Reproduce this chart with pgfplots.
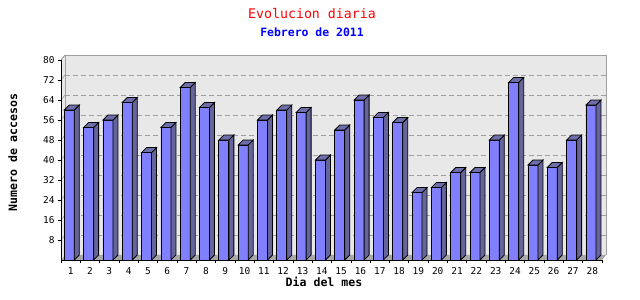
\documentclass[border=0pt]{standalone}
\usepackage{fontspec}
\usepackage{pgfplots}
\pgfplotsset{compat=1.18}
\newfontfamily\mono{DejaVu Sans Mono}
\definecolor{front}{HTML}{8080FF}
\definecolor{side}{HTML}{65659C}
\definecolor{topc}{HTML}{6E6EAA}
\definecolor{panel}{HTML}{E8E8E8}
\definecolor{floorc}{HTML}{A8A8A8}
\definecolor{border}{HTML}{A0A0A0}
\pgfdeclareplotmark{bar3d}{%
  \pgfmathsetlengthmacro\hh{\barval*2.5bp}%
  \pgfsetlinewidth{0.8pt}%
  \pgfsetstrokecolor{black}%
  \pgfsetfillcolor{side}%
  \pgfpathmoveto{\pgfpoint{3.64bp}{0pt}}%
  \pgfpathlineto{\pgfpoint{3.64bp}{-\hh}}%
  \pgfpathlineto{\pgfpoint{8.64bp}{-\hh+5bp}}%
  \pgfpathlineto{\pgfpoint{8.64bp}{5bp}}%
  \pgfpathclose
  \pgfusepath{fill,stroke}%
  \pgfsetfillcolor{topc}%
  \pgfpathmoveto{\pgfpoint{-6.36bp}{0pt}}%
  \pgfpathlineto{\pgfpoint{3.64bp}{0pt}}%
  \pgfpathlineto{\pgfpoint{8.64bp}{5bp}}%
  \pgfpathlineto{\pgfpoint{-1.36bp}{5bp}}%
  \pgfpathclose
  \pgfusepath{fill,stroke}%
}
\pgfplotstableread{
x y
1 60
2 53
3 56
4 63
5 43
6 53
7 69
8 61
9 48
10 46
11 56
12 60
13 59
14 40
15 52
16 64
17 57
18 55
19 27
20 29
21 35
22 35
23 48
24 71
25 38
26 37
27 48
28 62
}\datatable
\begin{document}
\begin{tikzpicture}
\useasboundingbox (0,0) rectangle (640bp,300bp);
\begin{axis}[
  at={(61bp,40bp)}, anchor=south west,
  x=19.32bp, y=2.5bp,
  xmin=0.5, xmax=28.5, ymin=0, ymax=80,
  axis x line*=bottom, axis y line*=left,
  axis line style={black,-,line width=0.8pt},
  axis on top,
  xtick={1,...,28},
  minor xtick={0.5,1.5,...,28.5},
  ytick={8,16,...,80},
  major x tick style={draw=none},
  minor tick length=3bp,
  major tick length=3bp,
  tick align=outside,
  tick style={black, line width=0.6pt},
  /pgf/number format/assume math mode=true,
  tick label style={font=\mono\fontsize{9.5}{10}\selectfont},
  xticklabel style={yshift=-1bp},
  clip=false,
]
  \fill[panel] ([xshift=4bp,yshift=5bp]axis cs:0.5,0) rectangle ([xshift=4bp,yshift=5bp]axis cs:28.5,80);
  \fill[panel] (axis cs:0.5,0) -- ([xshift=4bp,yshift=5bp]axis cs:0.5,0) -- ([xshift=4bp,yshift=5bp]axis cs:0.5,80) -- (axis cs:0.5,80) -- cycle;
  \fill[floorc] (axis cs:0.5,0) -- (axis cs:28.5,0) -- ([xshift=4bp,yshift=5bp]axis cs:28.5,0) -- ([xshift=4bp,yshift=5bp]axis cs:0.5,0) -- cycle;
  \draw[border, line width=0.9pt] ([xshift=4bp,yshift=5bp]axis cs:0.5,0) -- ([xshift=4bp,yshift=5bp]axis cs:0.5,80) -- ([xshift=4bp,yshift=5bp]axis cs:28.5,80) -- ([xshift=4bp,yshift=5bp]axis cs:28.5,0);
  \draw[border, line width=0.9pt] (axis cs:0.5,80) -- ([xshift=4bp,yshift=5bp]axis cs:0.5,80);
  \pgfplotsinvokeforeach{8,16,...,72}{
    \draw[border, line width=0.7pt, dash pattern=on 5bp off 3bp] ([xshift=4bp,yshift=5bp]axis cs:0.5,#1) -- ([xshift=4bp,yshift=5bp]axis cs:28.5,#1);
    \draw[border, line width=0.7pt] (axis cs:0.5,#1) -- ([xshift=4bp,yshift=5bp]axis cs:0.5,#1);
  }
\addplot[ybar, bar width=10bp, bar shift=-1.36bp, fill=front, draw=black, line width=0.8pt] table[x=x,y=y] {\datatable};
\addplot[only marks, mark=bar3d, visualization depends on={rawy \as \barval}] table[x=x,y=y] {\datatable};
\end{axis}
\node[anchor=base, text=red, font=\mono\fontsize{13.3}{14}\selectfont] at (312bp,281bp) {Evolucion diaria};
\node[anchor=base, text=blue, font=\mono\bfseries\fontsize{11.5}{12}\selectfont] at (312bp,263.5bp) {Febrero de 2011};
\node[anchor=base, font=\mono\bfseries\fontsize{11.6}{12}\selectfont] at (324bp,14bp) {Dia del mes};
\node[anchor=base, rotate=90, font=\mono\bfseries\fontsize{11.6}{12}\selectfont] at (17bp,147.5bp) {Numero de accesos};
\end{tikzpicture}
\end{document}
